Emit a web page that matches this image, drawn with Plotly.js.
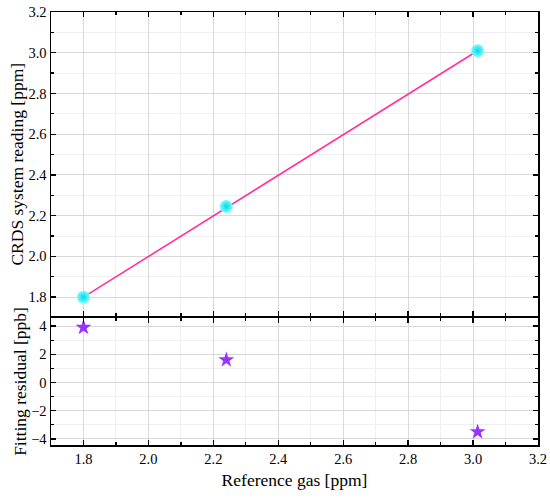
<!DOCTYPE html>
<html>
<head>
<meta charset="utf-8">
<script src="https://cdn.plot.ly/plotly-3.0.1.min.js"></script>
<style>html,body{margin:0;padding:0;background:#fff;}#chart{width:550px;height:498px;}</style>
</head>
<body>
<div id="chart"></div>
<script>
// Data
const refGas = [1.8, 2.24, 3.014];
const crdsReading = [1.8, 2.245, 3.01];
const fitX = [1.8, 3.014];
const fitY = [1.8, 3.01];
const residualPpb = [3.9, 1.6, -3.5];

const FONT = 'Liberation Serif, Times New Roman, serif';

const traces = [
  {x: fitX, y: fitY, xaxis: 'x2', yaxis: 'y2', mode: 'lines',
   line: {color: '#ff3399', width: 1.6}, hoverinfo: 'skip'},
  {x: refGas, y: crdsReading, xaxis: 'x2', yaxis: 'y2', mode: 'markers',
   marker: {symbol: 'circle', size: 13, color: '#7ffcff',
            gradient: {type: 'radial', color: '#00d8e8'},
            line: {width: 0}}},
  {x: refGas, y: residualPpb, xaxis: 'x', yaxis: 'y', mode: 'markers',
   marker: {symbol: 'star', size: 12, color: '#9933ff', line: {width: 0}}}
];

const axBase = {
  showline: true, linecolor: '#000', linewidth: 1.5,
  mirror: 'allticks', ticks: 'inside', ticklen: 5, tickwidth: 1.3, tickcolor: '#000',
  showgrid: true, gridcolor: '#d9d9d9', gridwidth: 1, zeroline: false,
  tickfont: {family: FONT, size: 14.5, color: '#000'}
};
const minorX = {ticks: 'inside', ticklen: 3, dtick: 0.1, showgrid: true, gridcolor: '#f0f0f0', tickcolor: '#000'};

const layout = {
  width: 550, height: 498,
  margin: {l: 51, r: 12, t: 12, b: 53},
  paper_bgcolor: '#fff', plot_bgcolor: '#fff',
  showlegend: false,
  font: {family: FONT, color: '#000'},
  xaxis: Object.assign({}, axBase, {
    domain: [0, 1], anchor: 'y', range: [1.7, 3.2], dtick: 0.2, tickformat: '.1f',
    minor: minorX,
    title: {text: 'Reference gas [ppm]', font: {family: FONT, size: 17.5}, standoff: 8}
  }),
  yaxis: Object.assign({}, axBase, {
    domain: [0, 0.2933], anchor: 'x', range: [-4.43, 4.57], dtick: 2,
    minor: {ticks: 'inside', ticklen: 3, dtick: 1, showgrid: true, gridcolor: '#f0f0f0', tickcolor: '#000'},
    title: {text: 'Fitting residual [ppb]', font: {family: FONT, size: 17.5}, standoff: 0}
  }),
  xaxis2: Object.assign({}, axBase, {
    domain: [0, 1], anchor: 'y2', range: [1.7, 3.2], dtick: 0.2, matches: 'x',
    showticklabels: false,
    minor: minorX
  }),
  yaxis2: Object.assign({}, axBase, {
    domain: [0.2968, 1], anchor: 'x2', range: [1.705, 3.2], dtick: 0.2, tickformat: '.1f',
    minor: {ticks: 'inside', ticklen: 3, dtick: 0.1, showgrid: true, gridcolor: '#f0f0f0', tickcolor: '#000'},
    title: {text: 'CRDS system reading [ppm]', font: {family: FONT, size: 17.5}, standoff: 0}
  })
};

Plotly.newPlot('chart', traces, layout, {displayModeBar: false, staticPlot: true});
</script>
</body>
</html>
